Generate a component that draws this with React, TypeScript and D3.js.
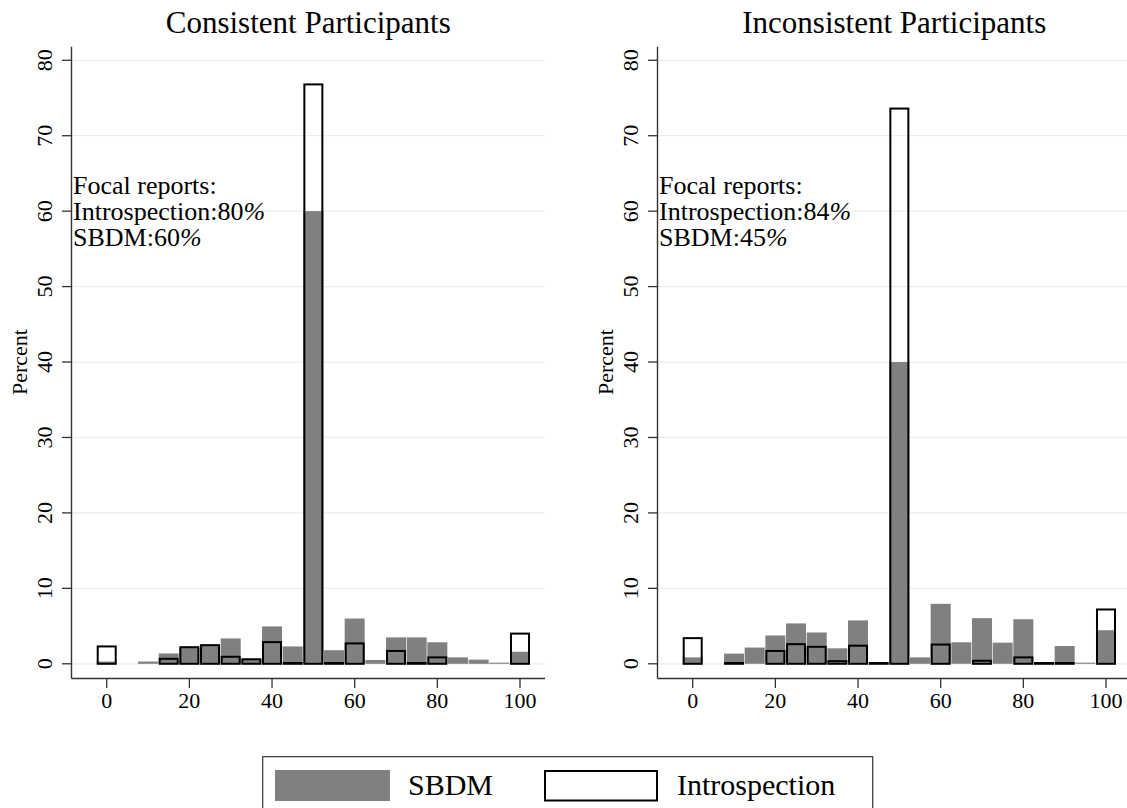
import React from 'react';
import { scaleLinear } from 'd3';

// bin centres (percent reported)
const bins = [0, 5, 10, 15, 20, 25, 30, 35, 40, 45, 50, 55, 60, 65, 70, 75, 80, 85, 90, 95, 100];

const consistentSBDM = [0.3, 0, 0.3, 1.37, 2.1, 2.4, 3.36, 0.6, 4.95, 2.3, 60, 1.8, 6.0, 0.5, 3.5, 3.5, 2.85, 0.85, 0.55, 0.15, 1.6];
const consistentIntro = [2.3, 0, 0, 0.66, 2.2, 2.47, 0.93, 0.6, 2.87, 0.1, 76.8, 0.1, 2.7, 0, 1.7, 0.1, 0.85, 0, 0, 0, 4.0];

const inconsistentSBDM = [0.85, 0, 1.35, 2.15, 3.75, 5.35, 4.15, 2.05, 5.75, 0, 40, 0.85, 7.95, 2.85, 6.05, 2.8, 5.9, 0, 2.35, 0.15, 4.45];
const inconsistentIntro = [3.4, 0, 0.1, 0, 1.7, 2.6, 2.25, 0.35, 2.4, 0.1, 73.6, 0, 2.55, 0, 0.4, 0, 0.85, 0.1, 0.1, 0, 7.2];

const xTicks = [0, 20, 40, 60, 80, 100];
const yTicks = [0, 10, 20, 30, 40, 50, 60, 70, 80];

const panels = [
  { title: 'Consistent Participants', sbdm: consistentSBDM, intro: consistentIntro, focal: ['Introspection:80', 'SBDM:60'] },
  { title: 'Inconsistent Participants', sbdm: inconsistentSBDM, intro: inconsistentIntro, focal: ['Introspection:84', 'SBDM:45'] },
];

const FONT = '"Liberation Serif", "Times New Roman", serif';
const GREY = '#808080';
const AXIS = '#333';
const GRID = '#e7eef1';

const plot = { left: 71.5, right: 545, top: 46.7, bottom: 678.5 };
const panelShift = 586;
const barWidth = 4.84;

const x = scaleLinear().domain([-8.52, 106.05]).range([plot.left, plot.right]);
const y = scaleLinear().domain([-1.95, 81.8]).range([plot.bottom, plot.top]);

const Panel = ({ p, dx }: { p: typeof panels[0]; dx: number }) => {
  const bw = x(barWidth) - x(0);
  return (
    <g transform={`translate(${dx},0)`}>
      {yTicks.map((t) => (
        <line key={'g' + t} x1={plot.left} x2={plot.right} y1={y(t)} y2={y(t)} stroke={GRID} strokeWidth={1.3} />
      ))}
      {p.sbdm.map((v, i) =>
        v > 0 ? (
          <rect key={'s' + i} x={x(bins[i]) - bw / 2} width={bw} y={y(v)} height={y(0) - y(v)} fill={GREY} />
        ) : null
      )}
      {p.intro.map((v, i) =>
        v > 0 ? (
          <rect key={'i' + i} x={x(bins[i]) - bw / 2 + 1} width={bw - 2} y={y(v)} height={y(0) - y(v)}
            fill="none" stroke="#000" strokeWidth={2} />
        ) : null
      )}
      {/* axes */}
      <line x1={plot.left} x2={plot.left} y1={plot.top} y2={plot.bottom} stroke={AXIS} strokeWidth={1.4} />
      <line x1={plot.left} x2={plot.right} y1={plot.bottom} y2={plot.bottom} stroke={AXIS} strokeWidth={1.4} />
      {yTicks.map((t) => (
        <g key={'y' + t}>
          <line x1={plot.left - 9.5} x2={plot.left} y1={y(t)} y2={y(t)} stroke={AXIS} strokeWidth={1.3} />
          <text transform={`translate(${plot.left - 20},${y(t)}) rotate(-90)`} textAnchor="middle"
            fontFamily={FONT} fontSize={22} fill="#000">{t}</text>
        </g>
      ))}
      {xTicks.map((t) => (
        <g key={'x' + t}>
          <line x1={x(t)} x2={x(t)} y1={plot.bottom} y2={plot.bottom + 9.5} stroke={AXIS} strokeWidth={1.3} />
          <text x={x(t)} y={708} textAnchor="middle" fontFamily={FONT} fontSize={22} fill="#000">{t}</text>
        </g>
      ))}
      <text transform={`translate(27,362) rotate(-90)`} textAnchor="middle" fontFamily={FONT} fontSize={22} fill="#000">Percent</text>
      <text x={(plot.left + plot.right) / 2} y={33} textAnchor="middle" fontFamily={FONT} fontSize={31} fill="#000">{p.title}</text>
      <text x={plot.left + 1.5} y={194} fontFamily={FONT} fontSize={26} fill="#000">Focal reports:</text>
      {p.focal.map((f, i) => (
        <text key={f} x={plot.left + 1.5} y={220 + i * 25.5} fontFamily={FONT} fontSize={26} fill="#000">
          {f}<tspan fontStyle="italic">%</tspan>
        </text>
      ))}
    </g>
  );
};

export default function App() {
  return (
    <svg width={1127} height={808} style={{ position: 'absolute', left: 0, top: 0, background: '#fff' }}>
      <rect width={1127} height={808} fill="#fff" />
      {panels.map((p, i) => (
        <Panel key={p.title} p={p} dx={i * panelShift} />
      ))}
      {/* legend */}
      <rect x={262.7} y={756.7} width={610} height={80} fill="#fff" stroke={AXIS} strokeWidth={1.2} />
      <rect x={275} y={770} width={115} height={31} fill={GREY} />
      <text x={408} y={795} fontFamily={FONT} fontSize={30} fill="#000">SBDM</text>
      <rect x={545} y={771} width={112} height={29.5} fill="none" stroke="#000" strokeWidth={2} />
      <text x={677} y={795} fontFamily={FONT} fontSize={30} fill="#000">Introspection</text>
    </svg>
  );
}
